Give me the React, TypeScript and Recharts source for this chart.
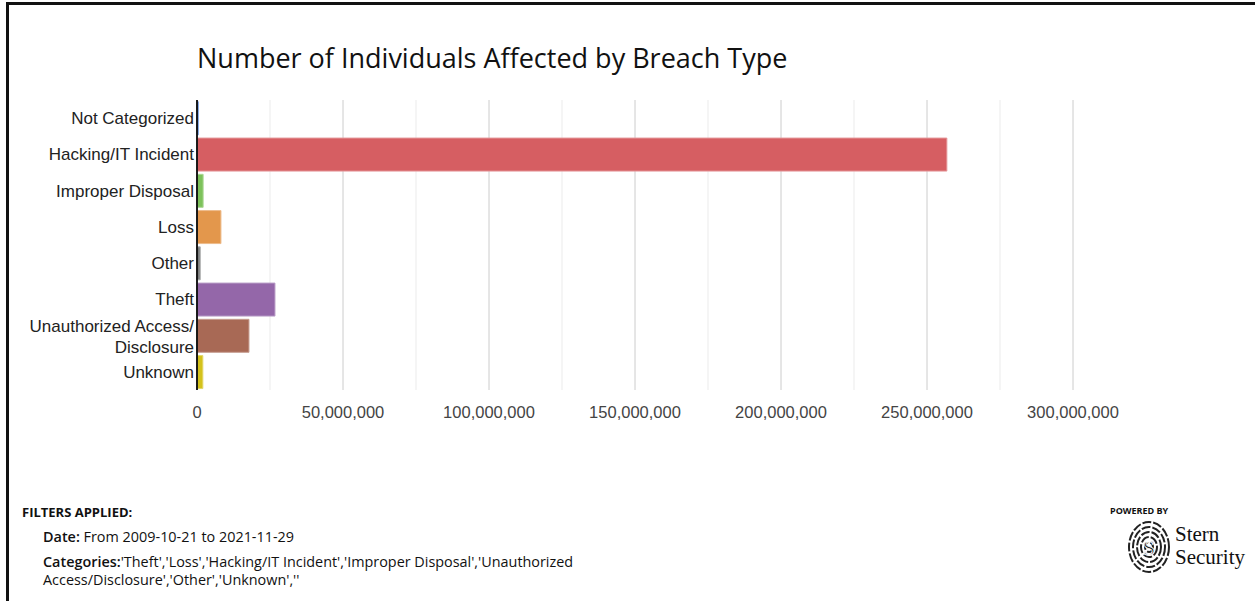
import React from 'react';
import { BarChart, Bar, XAxis, YAxis, CartesianGrid, ReferenceLine, Cell } from 'recharts';

const categories = [
  'Not Categorized',
  'Hacking/IT Incident',
  'Improper Disposal',
  'Loss',
  'Other',
  'Theft',
  'Unauthorized Access/Disclosure',
  'Unknown',
];
const individuals = [500000, 256800000, 2100000, 8200000, 1100000, 26700000, 17800000, 2000000];
const barColors = ['#4a7fd9', '#d65e62', '#7dc25b', '#e3974c', '#7b7d7d', '#9467a9', '#a86955', '#d4c21b'];
const majorTicks = [0, 50000000, 100000000, 150000000, 200000000, 250000000, 300000000];
const minorTicks = [25000000, 75000000, 125000000, 175000000, 225000000, 275000000];
const filterCategories = ['Theft', 'Loss', 'Hacking/IT Incident', 'Improper Disposal', 'Unauthorized Access/Disclosure', 'Other', 'Unknown', ''];

const data = categories.map((name, i) => ({ name, value: individuals[i] }));

const lighten = (hex: string) => {
  const n = parseInt(hex.slice(1), 16);
  const mix = (c: number) => Math.round(c + (255 - c) * 0.35);
  const r = mix((n >> 16) & 255), g = mix((n >> 8) & 255), b = mix(n & 255);
  return `rgb(${r},${g},${b})`;
};

const CategoryTick = ({ x, y, payload }: any) => {
  const label: string = payload.value;
  const lines = label === 'Unauthorized Access/Disclosure' ? ['Unauthorized Access/', 'Disclosure'] : [label];
  const startDy = lines.length > 1 ? -4 : 6;
  const tx = x + 5;
  return (
    <text x={tx} y={y} textAnchor="end" fill="#222" fontSize={17} fontFamily="'Liberation Sans', Arial, sans-serif">
      {lines.map((l, i) => (
        <tspan key={i} x={tx} dy={i === 0 ? startDy : 21}>{l}</tspan>
      ))}
    </text>
  );
};

const Fingerprint = () => (
  <svg width={46} height={58} viewBox="0 0 46 58">
    {[4, 8, 12, 16, 20].map((r) => (
      <ellipse key={r} cx={23} cy={29} rx={r} ry={r * 1.25} fill="none" stroke="#222" strokeWidth={2} strokeDasharray="9 2" />
    ))}
    <text x={23} y={37} textAnchor="middle" fontSize={22} fontFamily="'Liberation Serif', serif" fill="#111" stroke="#fff" strokeWidth={0.8}>S</text>
  </svg>
);

// split the categories filter line the way the reference wraps it
const catText = filterCategories.map((c) => `'${c}'`).join(',');
const splitAt = catText.indexOf('Access/');

export default function App() {
  return (
    <div style={{ position: 'absolute', left: 0, top: 0, width: 1255, height: 601, background: '#fff', overflow: 'hidden' }}>
      <div style={{ position: 'absolute', left: 6, top: 2, width: 1260, height: 596, borderLeft: '3px solid #111', borderTop: '3px solid #111', borderBottom: '1px solid #e6e6e6' }} />
      <div style={{ position: 'absolute', left: 197, top: 39, fontFamily: "'Open Sans', sans-serif", fontSize: 27, color: '#111', whiteSpace: 'nowrap' }}>
        Number of Individuals Affected by Breach Type
      </div>
      <div style={{ position: 'absolute', left: 0, top: 0 }}>
        <BarChart
          width={1255}
          height={440}
          data={data}
          layout="vertical"
          margin={{ top: 100, right: 182, bottom: 20, left: 0 }}
          barCategoryGap="5%"
        >
          <CartesianGrid horizontal={false} stroke="#ebebeb" verticalValues={minorTicks} />
          <CartesianGrid horizontal={false} stroke="#cccccc" verticalValues={majorTicks} />
          <XAxis
            type="number"
            domain={[0, 300000000]}
            ticks={majorTicks}
            tickFormatter={(v: number) => v.toLocaleString('en-US')}
            axisLine={false}
            tickLine={false}
            tickMargin={10}
            tick={{ fill: '#444', fontSize: 16.5, fontFamily: "'Liberation Sans', Arial, sans-serif" }}
          />
          <YAxis
            type="category"
            dataKey="name"
            width={197}
            axisLine={{ stroke: '#111', strokeWidth: 1.5 }}
            tickLine={false}
            tick={<CategoryTick />}
            interval={0}
          />
          <Bar dataKey="value" isAnimationActive={false}>
            {data.map((d, i) => (
              <Cell key={d.name} fill={barColors[i]} stroke={lighten(barColors[i])} strokeWidth={1} />
            ))}
          </Bar>
          <ReferenceLine x={0} stroke="#111" strokeWidth={1.5} />
        </BarChart>
      </div>
      <div style={{ position: 'absolute', left: 22, top: 503, fontFamily: "'Open Sans', sans-serif", fontSize: 13, color: '#111', lineHeight: '18px' }}>
        <div style={{ fontWeight: 700 }}>FILTERS APPLIED:</div>
        <div style={{ marginLeft: 21, marginTop: 7, fontSize: 14.4 }}>
          <b style={{ fontWeight: 600 }}>Date:</b> From 2009-10-21 to 2021-11-29
        </div>
        <div style={{ marginLeft: 21, marginTop: 7, fontSize: 14.4, whiteSpace: 'nowrap' }}>
          <b style={{ fontWeight: 600 }}>Categories:</b>
          <span>{catText.slice(0, splitAt)}</span>
        </div>
        <div style={{ marginLeft: 21, fontSize: 14.4, whiteSpace: 'nowrap' }}>{catText.slice(splitAt)}</div>
      </div>
      <div style={{ position: 'absolute', left: 1110, top: 504, fontFamily: "'Open Sans', sans-serif", fontSize: 9, fontWeight: 700, color: '#111' }}>
        POWERED BY
      </div>
      <div style={{ position: 'absolute', left: 1126, top: 518 }}>
        <Fingerprint />
      </div>
      <div style={{ position: 'absolute', left: 1175, top: 523, fontFamily: "'Liberation Serif', serif", fontSize: 21, color: '#111', lineHeight: '23px' }}>
        <div>Stern</div>
        <div>Security</div>
      </div>
    </div>
  );
}
